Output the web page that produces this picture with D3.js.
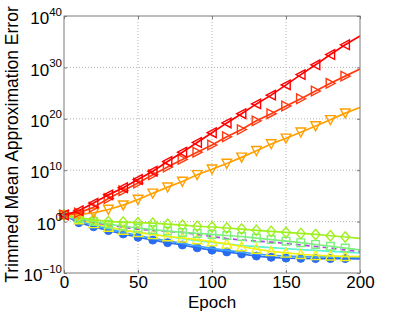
<!DOCTYPE html>
<html>
<head>
<meta charset="utf-8">
<script src="https://cdn.jsdelivr.net/npm/d3@7"></script>
<style>
  body { margin: 0; background: #fff; }
  text { font-family: "Liberation Sans", Arial, sans-serif; }
</style>
</head>
<body>
<div id="chart"></div>
<script>
// epochs where the curves were sampled (markers every 10 epochs)
var epochs = [0, 10, 20, 30, 40, 50, 60, 70, 80, 90, 100, 110, 120, 130, 140, 150, 160, 170, 180, 190, 200];
var xTicks = [0, 50, 100, 150, 200];
var yTickExps = [-10, 0, 10, 20, 30, 40];

// log10 of the trimmed mean error
var redLeft = [1.3, 2.1, 3.6, 5.2, 6.6, 8.2, 9.8, 11.7, 13.5, 15.4, 17.3, 19.2, 21.0, 22.9, 24.6, 26.6, 28.6, 30.5, 32.5, 34.4, 36.1];
var redRight = [1.3, 1.7, 2.8, 4.5, 6.0, 7.5, 9.1, 10.6, 12.1, 13.5, 14.9, 16.5, 17.9, 19.6, 21.0, 22.5, 23.9, 25.4, 26.9, 28.3, 29.7];
var orangeDown = [1.3, 1.4, 1.7, 2.35, 3.2, 4.3, 5.5, 6.7, 7.8, 9.1, 10.2, 11.3, 12.5, 13.8, 15.1, 16.2, 17.4, 18.6, 19.8, 21.1, 22.2];
var greenDiamond = [1.3, 0.8, 0.4, 0.0, -0.1, -0.2, -0.3, -0.5, -0.7, -0.9, -1.05, -1.25, -1.45, -1.7, -1.9, -2.1, -2.3, -2.5, -2.75, -3.0, -3.25];
var lightGreenSquare = [1.3, 0.6, 0.0, -0.5, -0.9, -1.25, -1.55, -1.85, -2.1, -2.3, -2.5, -2.7, -2.9, -3.2, -3.5, -3.8, -4.1, -4.45, -4.8, -5.15, -5.5];
var purpleDash = [1.3, 0.5, -0.2, -0.65, -1.1, -1.45, -1.7, -1.9, -2.1, -2.5, -2.9, -3.3, -3.6, -3.8, -4.0, -4.25, -4.55, -4.85, -5.15, -5.5, -5.85];
var cyanLine = [1.3, 0.3, -0.45, -1.15, -1.65, -2.1, -2.5, -2.9, -3.3, -3.7, -4.05, -4.35, -4.65, -4.85, -5.05, -5.25, -5.45, -5.6, -5.8, -5.95, -6.1];
var yellowUp = [1.3, 0.4, -0.35, -1.05, -1.65, -2.1, -2.5, -2.9, -3.15, -3.5, -3.9, -4.35, -4.85, -5.35, -5.8, -6.1, -6.35, -6.55, -6.65, -6.75, -6.8];
var lightBlueLine = [1.3, 0.1, -0.65, -1.45, -2.1, -2.7, -3.25, -3.75, -4.25, -4.75, -5.2, -5.6, -5.95, -6.3, -6.55, -6.7, -6.8, -6.85, -6.9, -6.9, -6.95];
var blueCircle = [1.3, -0.2, -1.0, -1.75, -2.4, -3.05, -3.6, -4.1, -4.55, -5.1, -5.55, -5.9, -6.3, -6.7, -6.95, -7.1, -7.15, -7.2, -7.2, -7.2, -7.25];

var width = 402,
  height = 312;
var margin = { left: 64, right: 42, top: 16, bottom: 39 };

var svg = d3.select('#chart')
  .append('svg')
  .attr('width', width)
  .attr('height', height);

var x = d3.scaleLinear()
  .domain([0, 200])
  .range([margin.left, width - margin.right]);

var y = d3.scaleLog()
  .domain([1e-10, 1e40])
  .range([height - margin.bottom, margin.top]);

var yTicks = yTickExps.map(function(e) { return Math.pow(10, e); });

// dotted grid
var grid = svg.append('g').attr('class', 'grid');
grid.selectAll('.gx')
  .data(xTicks.slice(1, -1))
  .enter().append('line')
  .attr('x1', d => x(d)).attr('x2', d => x(d))
  .attr('y1', y.range()[1]).attr('y2', y.range()[0])
  .attr('stroke', '#b4b4b4').attr('stroke-dasharray', '1,2');
grid.selectAll('.gy')
  .data(yTicks.slice(1, -1))
  .enter().append('line')
  .attr('y1', d => y(d)).attr('y2', d => y(d))
  .attr('x1', x.range()[0]).attr('x2', x.range()[1])
  .attr('stroke', '#b4b4b4').attr('stroke-dasharray', '1,2');

// marker shapes, centred at 0,0
var markerPath = {
  left: 'M-4.8,0L4.2,-4.8L4.2,4.8Z',
  right: 'M4.8,0L-4.2,-4.8L-4.2,4.8Z',
  down: 'M0,4.8L-4.8,-4.2L4.8,-4.2Z',
  up: 'M0,-4.8L-4.8,4.2L4.8,4.2Z',
  diamond: 'M0,-5.2L4.4,0L0,5.2L-4.4,0Z',
  square: 'M-3.8,-3.8L3.8,-3.8L3.8,3.8L-3.8,3.8Z'
};

// bottom-most drawn first
var series = [
  { values: blueCircle, color: '#2a6cf0', marker: 'circle' },
  { values: lightBlueLine, color: '#3ea0ff', marker: null },
  { values: cyanLine, color: '#5ff5d2', marker: null },
  { values: yellowUp, color: '#f0f014', marker: 'up' },
  { values: purpleDash, color: '#b040e8', marker: null, dash: '5,4' },
  { values: lightGreenSquare, color: '#7cf07c', marker: 'square' },
  { values: greenDiamond, color: '#a0f020', marker: 'diamond' },
  { values: orangeDown, color: '#ffa000', marker: 'down' },
  { values: redRight, color: '#ff3a10', marker: 'right' },
  { values: redLeft, color: '#ff0000', marker: 'left' }
];

var line = d3.line()
  .x((d, i) => x(epochs[i]))
  .y(d => y(Math.pow(10, d)));

var plot = svg.append('g');

series.forEach(function(s) {
  var g = plot.append('g');
  g.append('path')
    .datum(s.values)
    .attr('d', line)
    .attr('fill', 'none')
    .attr('stroke', s.color)
    .attr('stroke-width', 1.7)
    .attr('stroke-dasharray', s.dash || null);

  // markers every 10 epochs, none on the final point
  var pts = s.values.slice(0, -1);
  if (s.marker === 'circle') {
    g.selectAll('circle')
      .data(pts)
      .enter().append('circle')
      .attr('cx', (d, i) => x(epochs[i]))
      .attr('cy', d => y(Math.pow(10, d)))
      .attr('r', 4)
      .attr('fill', s.color)
      .attr('stroke', s.color);
  } else if (s.marker) {
    g.selectAll('.mk')
      .data(pts)
      .enter().append('path')
      .attr('transform', (d, i) => `translate(${x(epochs[i])},${y(Math.pow(10, d))})`)
      .attr('d', markerPath[s.marker])
      .attr('fill', 'none')
      .attr('stroke', s.color)
      .attr('stroke-width', 1.4);
  }
});

// axes: inward ticks on all four sides
var frameColor = '#7a7a7a';

var xAxis = svg.append('g')
  .attr('transform', `translate(0,${y.range()[0]})`)
  .call(d3.axisBottom(x).tickValues(xTicks).tickSize(-3).tickPadding(3));

svg.append('g')
  .attr('transform', `translate(0,${y.range()[1]})`)
  .call(d3.axisTop(x).tickValues(xTicks).tickSize(-3).tickFormat(''));

var yAxis = svg.append('g')
  .attr('transform', `translate(${x.range()[0]},0)`)
  .call(d3.axisLeft(y).tickValues(yTicks).tickSize(-3).tickPadding(2).tickFormat(''));

svg.append('g')
  .attr('transform', `translate(${x.range()[1]},0)`)
  .call(d3.axisRight(y).tickValues(yTicks).tickSize(-3).tickFormat(''));

svg.selectAll('.domain').remove();
svg.selectAll('.tick line').attr('stroke', frameColor);

xAxis.selectAll('text')
  .attr('font-size', '17px')
  .attr('fill', '#000');

// 10^n labels with superscripts
yAxis.selectAll('.tick text')
  .attr('font-size', '17px')
  .attr('fill', '#000')
  .attr('dy', '0.45em')
  .each(function(d, i) {
    var t = d3.select(this);
    t.append('tspan').text('10');
    var e = yTickExps[i];
    t.append('tspan')
      .attr('font-size', '11.5px')
      .attr('dy', '-0.75em')
      .text(e < 0 ? '\u2212' + Math.abs(e) : e);
  });

// frame
svg.append('rect')
  .attr('x', x.range()[0])
  .attr('y', y.range()[1])
  .attr('width', x.range()[1] - x.range()[0])
  .attr('height', y.range()[0] - y.range()[1])
  .attr('fill', 'none')
  .attr('stroke', frameColor)
  .attr('stroke-width', 1);

// axis titles
svg.append('text')
  .attr('x', (x.range()[0] + x.range()[1]) / 2)
  .attr('y', 307.5)
  .attr('text-anchor', 'middle')
  .attr('font-size', '17px')
  .text('Epoch');

svg.append('text')
  .attr('transform', `translate(18,${(y.range()[0] + y.range()[1]) / 2}) rotate(-90)`)
  .attr('text-anchor', 'middle')
  .attr('font-size', '17.5px')
  .text('Trimmed Mean Approximation Error');
</script>
</body>
</html>
